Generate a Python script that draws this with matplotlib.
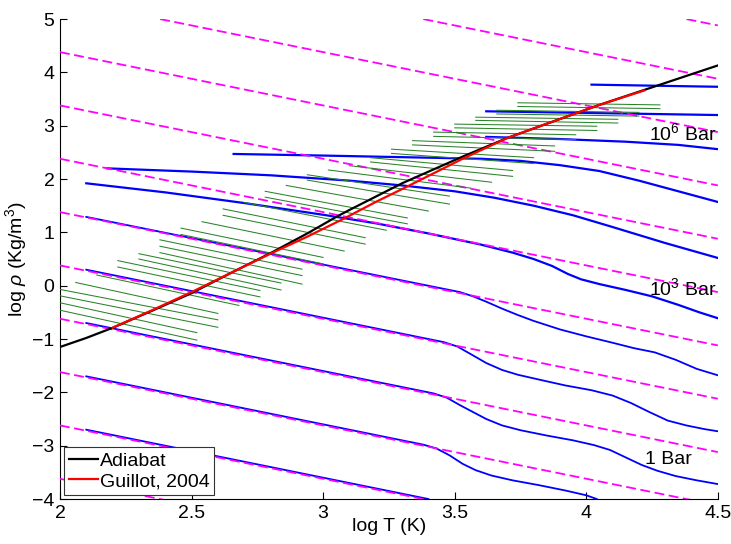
import numpy as np
import matplotlib
matplotlib.use("Agg")
import matplotlib.pyplot as plt

plt.rcParams['font.family'] = ['Liberation Sans', 'DejaVu Sans']
plt.rcParams['mathtext.fontset'] = 'custom'
plt.rcParams['mathtext.rm'] = 'Liberation Sans'
plt.rcParams['mathtext.it'] = 'Liberation Sans:italic'

# ideal gas isobars (1e-3 ... 1e8 bar): log rho at log T = 2 and at log T = 4.5
ideal_y_lo = [-3.62, -2.62, -1.62, -0.62, 0.38, 1.38, 2.38, 3.38, 4.38, 5.38, 6.38, 7.38]
ideal_y_hi = [-6.12, -5.12, -4.12, -3.12, -2.12, -1.12, -0.12, 0.88, 1.88, 2.88, 3.88, 4.88]
ideal_x = [2.0, 4.5]

# real EOS isobars, 0.01 bar ... 1e8 bar
eos_x = [
    [2.1, 3.4],
    [2.1, 3.38, 3.43, 3.48, 3.53, 3.58, 3.64, 3.72, 3.82, 3.92, 4.0, 4.04],
    [2.1, 3.42, 3.47, 3.52, 3.57, 3.62, 3.68, 3.75, 3.85, 3.95, 4.03, 4.09, 4.15,
     4.21, 4.27, 4.34, 4.42, 4.5],
    [2.1, 3.46, 3.51, 3.56, 3.62, 3.68, 3.74, 3.82, 3.92, 4.02, 4.1, 4.17, 4.24,
     4.31, 4.38, 4.45, 4.5],
    [2.1, 3.52, 3.57, 3.62, 3.68, 3.74, 3.8, 3.9, 4.0, 4.1, 4.18, 4.26, 4.34,
     4.42, 4.5],
    [2.1, 2.4, 2.7, 3.0, 3.2, 3.4, 3.6, 3.72, 3.8, 3.87, 3.93, 3.98, 4.05, 4.15,
     4.25, 4.35, 4.43, 4.5],
    [2.18, 2.5, 2.8, 3.1, 3.3, 3.5, 3.65, 3.8, 3.95, 4.1, 4.3, 4.5],
    [2.66, 3.0, 3.3, 3.6, 3.75, 3.9, 4.05, 4.2, 4.35, 4.5],
    [3.62, 3.9, 4.15, 4.35, 4.5],
    [3.62, 4.5],
    [4.02, 4.5],
]
eos_y = [
    [-2.7, -4.0],
    [-1.7, -2.98, -3.05, -3.18, -3.34, -3.46, -3.56, -3.65, -3.74, -3.84, -3.93, -4.0],
    [-0.7, -2.02, -2.10, -2.24, -2.37, -2.50, -2.62, -2.71, -2.81, -2.90, -2.99,
     -3.08, -3.22, -3.36, -3.47, -3.57, -3.65, -3.72],
    [0.3, -1.06, -1.14, -1.28, -1.45, -1.58, -1.67, -1.76, -1.87, -1.96, -2.06,
     -2.20, -2.37, -2.53, -2.62, -2.69, -2.73],
    [1.29, -0.12, -0.20, -0.30, -0.43, -0.55, -0.66, -0.82, -0.95, -1.07, -1.17,
     -1.25, -1.39, -1.56, -1.68],
    [1.92, 1.75, 1.55, 1.33, 1.17, 0.98, 0.77, 0.62, 0.50, 0.37, 0.22, 0.12,
     0.03, -0.08, -0.20, -0.36, -0.50, -0.61],
    [2.20, 2.14, 2.07, 1.97, 1.88, 1.77, 1.65, 1.50, 1.32, 1.10, 0.80, 0.52],
    [2.47, 2.44, 2.41, 2.38, 2.34, 2.26, 2.15, 1.97, 1.77, 1.57],
    [2.79, 2.75, 2.70, 2.64, 2.56],
    [3.27, 3.20],
    [3.77, 3.73],
]

# isobar segments of the interior model
seg_x0 = [2.00, 2.00, 2.00, 2.00, 2.06, 2.14, 2.22, 2.22, 2.30, 2.30, 2.38,
          2.38, 2.38, 2.46, 2.46, 2.54, 2.62, 2.62, 2.70, 2.78, 2.78, 2.86,
          2.94, 2.94, 3.02, 3.10, 3.18, 3.18, 3.26, 3.26, 3.34, 3.34,
          3.42, 3.42, 3.50, 3.50, 3.58, 3.58, 3.66, 3.66, 3.74, 3.74]
seg_y0 = [-0.46, -0.32, -0.19, -0.07, 0.06, 0.20, 0.35, 0.47, 0.50, 0.60, 0.62,
          0.74, 0.86, 0.96, 1.08, 1.20, 1.32, 1.44, 1.56, 1.66, 1.77, 1.88,
          1.98, 2.08, 2.17, 2.25, 2.32, 2.40, 2.48, 2.56, 2.64, 2.72,
          2.80, 2.88, 2.96, 3.03, 3.10, 3.16, 3.22, 3.29, 3.36, 3.43]
seg_x1 = [2.52, 2.52, 2.60, 2.60, 2.60, 2.68, 2.76, 2.76, 2.84, 2.84, 2.92,
          2.92, 2.92, 3.00, 3.00, 3.08, 3.16, 3.16, 3.24, 3.32, 3.32, 3.40,
          3.48, 3.48, 3.56, 3.64, 3.72, 3.72, 3.80, 3.80, 3.88, 3.88,
          3.96, 3.96, 4.04, 4.04, 4.12, 4.12, 4.20, 4.20, 4.28, 4.28]
seg_y1 = [-1.02, -0.88, -0.78, -0.64, -0.52, -0.37, -0.21, -0.09, -0.08, 0.05, 0.03,
          0.19, 0.31, 0.41, 0.53, 0.65, 0.78, 0.90, 1.04, 1.16, 1.27, 1.40,
          1.53, 1.68, 1.83, 1.94, 2.05, 2.16, 2.29, 2.40, 2.52, 2.62,
          2.74, 2.83, 2.91, 2.99, 3.05, 3.12, 3.18, 3.25, 3.32, 3.39]

adiabat_x = [2.0, 2.1, 2.2, 2.35, 2.5, 2.65, 2.8, 2.94, 3.05, 3.1, 3.3, 3.53, 3.7, 3.88, 4.05, 4.22, 4.5]
adiabat_y = [-1.15, -0.98, -0.79, -0.47, -0.14, 0.24, 0.61, 0.98, 1.29, 1.42, 1.92, 2.42, 2.77, 3.09, 3.39, 3.67, 4.13]

guillot_x = [2.2, 2.35, 2.5, 2.65, 2.8, 2.94, 3.08, 3.2, 3.32, 3.53, 3.7, 3.88, 4.05, 4.22]
guillot_y = [-0.79, -0.46, -0.12, 0.24, 0.60, 0.92, 1.26, 1.57, 1.86, 2.38, 2.77, 3.09, 3.39, 3.66]

fs = 14

fig = plt.figure(figsize=(7.31, 5.44), dpi=100)
ax = fig.add_axes([0.082, 0.0827, 0.9, 0.8823])

for i, (xs, ys) in enumerate(zip(eos_x, eos_y)):
    ax.plot(xs, ys, color='#0000ff', linewidth=1.6 if i >= 5 else 1.3, zorder=2)

for lo, hi in zip(ideal_y_lo, ideal_y_hi):
    ax.plot(ideal_x, [lo, hi], color='#ff00ff', linewidth=1.3,
            linestyle=(0, (5.5, 2.5)), zorder=3)

for x0, y0, x1, y1 in zip(seg_x0, seg_y0, seg_x1, seg_y1):
    ax.plot([x0, x1], [y0, y1], color='#2a832a', linewidth=0.75, zorder=4)

ax.plot(adiabat_x, adiabat_y, color='black', linewidth=1.6, zorder=5, label='Adiabat')
ax.plot(guillot_x, guillot_y, color='red', linewidth=1.6, zorder=6, label='Guillot, 2004')

ax.text(4.24, 2.73, '10$^6$ Bar', fontsize=fs, va='baseline', zorder=7)
ax.text(4.24, -0.175, '10$^3$ Bar', fontsize=fs, va='baseline', zorder=7)
ax.text(4.223, -3.34, '1 Bar', fontsize=fs, va='baseline', zorder=7)

ax.set_xlim(2, 4.5)
ax.set_ylim(-4, 5)
ax.set_xticks([2, 2.5, 3, 3.5, 4, 4.5])
ax.set_xticklabels(['2', '2.5', '3', '3.5', '4', '4.5'])
ax.set_yticks(range(-4, 6))
ax.tick_params(direction='in', length=5, width=0.8, labelsize=fs, pad=4)
for side in ['top', 'right']:
    ax.spines[side].set_visible(False)
for side in ['left', 'bottom']:
    ax.spines[side].set_linewidth(0.8)

ax.set_xlabel('log T (K)', fontsize=fs)
ax.set_ylabel(r'log $\rho$ (Kg/m$^3$)', fontsize=fs)
ax.xaxis.set_label_coords(0.5, -0.04)
ax.yaxis.set_label_coords(-0.047, 0.5)

leg = ax.legend(loc='lower left', fontsize=fs, frameon=True, fancybox=False,
                edgecolor='#333333', framealpha=1, borderaxespad=0.2,
                handlelength=1.5, handletextpad=0.1, labelspacing=0.15,
                borderpad=0.25)
leg.get_frame().set_linewidth(0.8)

fig.savefig('out.png', dpi=100, facecolor='white')
